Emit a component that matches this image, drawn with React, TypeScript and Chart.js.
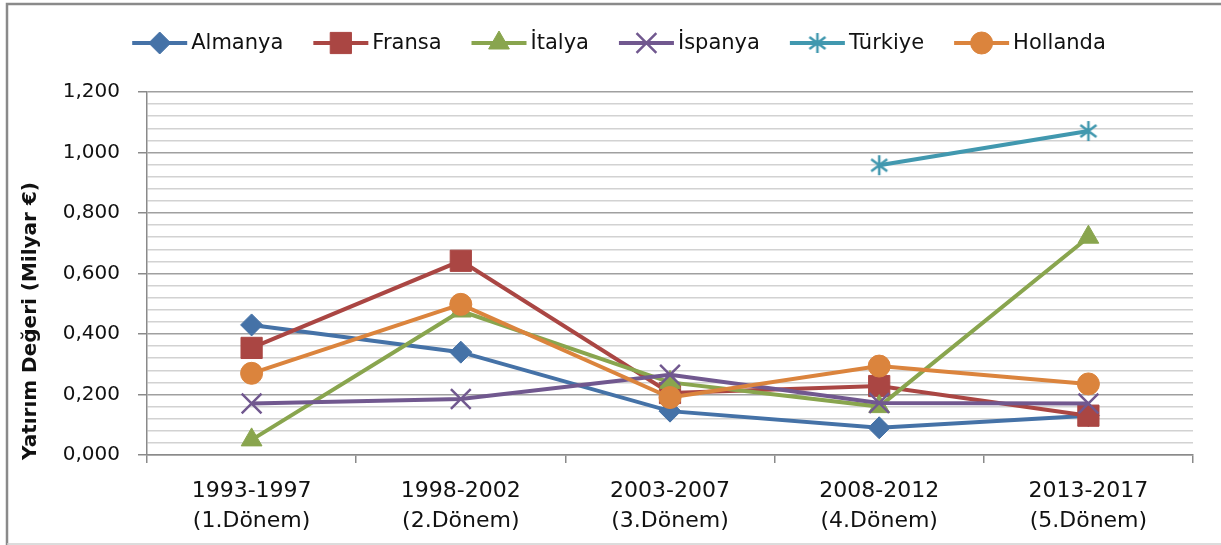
import React, { useEffect, useRef } from "react";
import { Chart, registerables } from "chart.js";
import { drawPoint } from "chart.js/helpers";

Chart.register(...registerables);

const categories: string[][] = [
  ["1993-1997", "(1.Dönem)"],
  ["1998-2002", "(2.Dönem)"],
  ["2003-2007", "(3.Dönem)"],
  ["2008-2012", "(4.Dönem)"],
  ["2013-2017", "(5.Dönem)"],
];

const almanya = [0.43, 0.34, 0.145, 0.09, 0.13];
const fransa = [0.354, 0.642, 0.205, 0.228, 0.13];
const italya = [0.05, 0.476, 0.24, 0.16, 0.72];
const ispanya = [0.17, 0.185, 0.265, 0.172, 0.17];
const turkiye = [null, null, null, 0.958, 1.071];
const hollanda = [0.27, 0.498, 0.19, 0.294, 0.235];

const seriesNames = ["Almanya", "Fransa", "İtalya", "İspanya", "Türkiye", "Hollanda"];
const seriesColors = ["#4572A7", "#AA4643", "#89A54E", "#71588F", "#4198AF", "#DB843D"];

const yTitle = "Yatırım Değeri (Milyar €)";

function makeStar(color: string): HTMLCanvasElement {
  const c = document.createElement("canvas");
  c.width = 24;
  c.height = 24;
  const ctx = c.getContext("2d")!;
  ctx.strokeStyle = color;
  ctx.lineWidth = 2.5;
  ctx.lineCap = "butt";
  const r = 10;
  ctx.beginPath();
  ctx.moveTo(12, 12 - r);
  ctx.lineTo(12, 12 + r);
  const d = r * 0.8;
  ctx.moveTo(12 - d, 12 - d * 0.75);
  ctx.lineTo(12 + d, 12 + d * 0.75);
  ctx.moveTo(12 - d, 12 + d * 0.75);
  ctx.lineTo(12 + d, 12 - d * 0.75);
  ctx.stroke();
  return c;
}

const FONT = "'DejaVu Sans', 'Open Sans', sans-serif";

export default function App() {
  const ref = useRef<HTMLCanvasElement>(null);

  useEffect(() => {
    const canvas = ref.current!;
    const star = makeStar(seriesColors[4]);
    const values = [almanya, fransa, italya, ispanya, turkiye, hollanda];
    const styles: any[] = ["rectRot", "rect", "triangle", "crossRot", star, "circle"];
    const radii = [11, 15, 12, 14, 12, 11];
    const pbw = [1, 1, 1, 2.5, 1, 1];

    const datasets = values.map((v, i) => ({
      label: seriesNames[i],
      data: v,
      borderColor: seriesColors[i],
      backgroundColor: seriesColors[i],
      pointBackgroundColor: seriesColors[i],
      pointBorderColor: seriesColors[i],
      borderWidth: 4,
      pointStyle: styles[i],
      pointRadius: radii[i],
      pointBorderWidth: pbw[i],
      tension: 0,
      spanGaps: false,
      order: 5 - i,
    }));

    const isMajor = (v: number) => Math.abs(v / 0.2 - Math.round(v / 0.2)) < 1e-6;

    const framePlugin = {
      id: "frame",
      beforeDraw(chart: any) {
        const ctx = chart.ctx;
        ctx.save();
        ctx.fillStyle = "#ffffff";
        ctx.fillRect(0, 0, chart.width, chart.height);
        ctx.strokeStyle = "#8a8a8a";
        ctx.lineWidth = 2.5;
        ctx.beginPath();
        ctx.moveTo(7, 545);
        ctx.lineTo(7, 4);
        ctx.lineTo(1221, 4);
        ctx.stroke();
        ctx.strokeStyle = "#d0d0d0";
        ctx.lineWidth = 1.5;
        ctx.beginPath();
        ctx.moveTo(7, 544);
        ctx.lineTo(1221, 544);
        ctx.stroke();
        ctx.restore();
      },
      afterDraw(chart: any) {
        const ctx = chart.ctx;
        ctx.save();
        // y title
        ctx.translate(31, 321);
        ctx.rotate(-Math.PI / 2);
        ctx.font = `bold 20px ${FONT}`;
        ctx.fillStyle = "#111";
        ctx.textAlign = "center";
        ctx.textBaseline = "middle";
        ctx.fillText(yTitle, 0, 0);
        ctx.restore();

        // legend
        ctx.save();
        ctx.font = `21px ${FONT}`;
        const lineW = 55;
        const gapText = 4;
        const gapItem = 30;
        const widths = seriesNames.map((n) => ctx.measureText(n).width);
        let total = 0;
        widths.forEach((w, i) => {
          total += lineW + gapText + w + (i < widths.length - 1 ? gapItem : 0);
        });
        let x = 619 - total / 2;
        const y = 43;
        seriesNames.forEach((n, i) => {
          ctx.strokeStyle = seriesColors[i];
          ctx.lineWidth = 4;
          ctx.beginPath();
          ctx.moveTo(x, y);
          ctx.lineTo(x + lineW, y);
          ctx.stroke();
          ctx.fillStyle = seriesColors[i];
          ctx.strokeStyle = seriesColors[i];
          ctx.lineWidth = pbw[i];
          drawPoint(ctx, { pointStyle: styles[i], rotation: 0, borderWidth: pbw[i], radius: radii[i] } as any, x + lineW / 2, y);
          ctx.fillStyle = "#111";
          ctx.textAlign = "left";
          ctx.textBaseline = "middle";
          ctx.fillText(n, x + lineW + gapText, y + 1);
          x += lineW + gapText + widths[i] + gapItem;
        });
        ctx.restore();
      },
    };

    const chart = new Chart(canvas, {
      type: "line",
      data: { labels: categories as any, datasets: datasets as any },
      options: {
        animation: false,
        responsive: false,
        devicePixelRatio: 1,
        layout: { padding: { top: 92, right: 28, left: 0, bottom: 0 } },
        plugins: { legend: { display: false }, tooltip: { enabled: false } },
        scales: {
          x: {
            offset: true,
            grid: {
              offset: true,
              drawOnChartArea: false,
              tickLength: 8,
              tickColor: "#8a8a8a",
              lineWidth: 1.5,
            },
            border: { color: "#8a8a8a", width: 1.5 },
            ticks: {
              font: { family: FONT, size: 22, lineHeight: 1.36 },
              color: "#111",
              padding: 13,
              maxRotation: 0,
              autoSkip: false,
            },
            afterFit(scale: any) {
              scale.height = 90;
            },
          },
          y: {
            min: 0,
            max: 1.2,
            ticks: {
              stepSize: 0.04,
              autoSkip: false,
              font: { family: FONT, size: 20 },
              color: "#111",
              padding: 18,
              callback: (v: any) => (isMajor(Number(v)) ? Number(v).toFixed(3).replace(".", ",") : ""),
            },
            grid: {
              color: (c: any) => (isMajor(c.tick?.value ?? 0) ? "#a0a0a0" : "#d2d2d2"),
              lineWidth: 1.5,
              tickLength: 9,
              tickColor: (c: any) => (isMajor(c.tick?.value ?? 0) ? "#8a8a8a" : "rgba(0,0,0,0)"),
            },
            border: { color: "#8a8a8a", width: 1.5 },
            afterFit(scale: any) {
              scale.width = 147;
            },
          },
        },
      },
      plugins: [framePlugin],
    });
    return () => chart.destroy();
  }, []);

  return (
    <div style={{ position: "absolute", left: 0, top: 0, width: 1221, height: 545, background: "#fff" }}>
      <canvas ref={ref} width={1221} height={545} style={{ display: "block", width: 1221, height: 545 }} />
    </div>
  );
}
